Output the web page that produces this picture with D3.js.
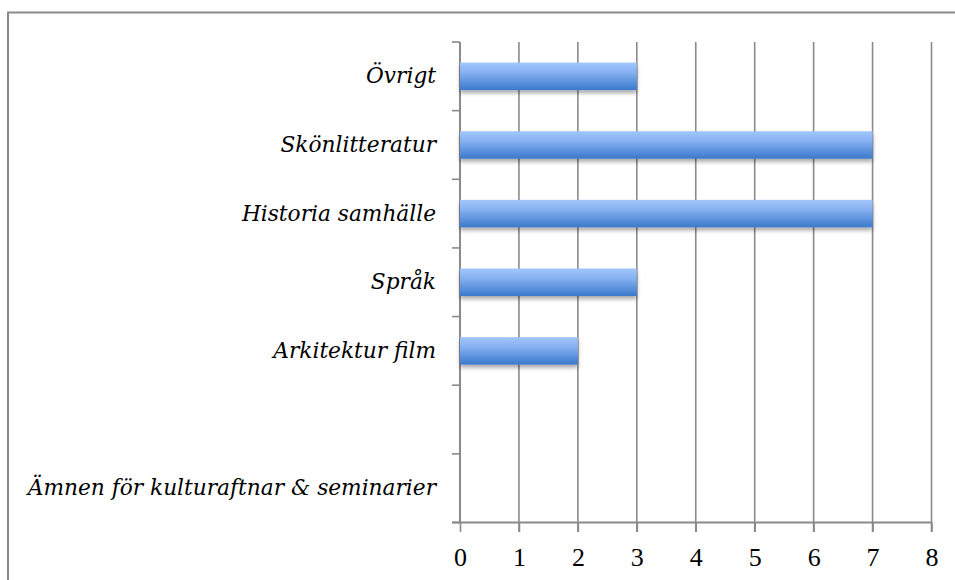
<!DOCTYPE html>
<html>
<head>
<meta charset="utf-8">
<script src="https://cdn.jsdelivr.net/npm/d3@7"></script>
<style>
  html, body { margin: 0; padding: 0; background: #fff; }
  svg { display: block; }
</style>
</head>
<body>
<svg id="chart" width="955" height="580"></svg>
<script>
const categories = ["Övrigt", "Skönlitteratur", "Historia samhälle", "Språk", "Arkitektur film", "", "Ämnen för kulturaftnar & seminarier"];
const values = [3, 7, 7, 3, 2, null, null];
const xTicks = [0, 1, 2, 3, 4, 5, 6, 7, 8];

const svg = d3.select("#chart");
const W = 955, H = 580;
const mLeft = 460, mRight = 931.5, mTop = 42, mBottom = 522.5;
const gray = "#8a8a8a";

// frame (top and left)
svg.append("path").attr("d", `M8,${H} L8,12.5 L${W},12.5`)
  .attr("fill", "none").attr("stroke", gray).attr("stroke-width", 2);

const keys = categories.map((c, i) => i);
const y = d3.scaleBand().domain(keys).range([mTop, mBottom]).paddingInner(0).paddingOuter(0);
const x = d3.scaleLinear().domain([0, 8]).range([mLeft, mRight]);

const defs = svg.append("defs");
const grad = defs.append("linearGradient").attr("id", "barGrad")
  .attr("x1", 0).attr("y1", 0).attr("x2", 0).attr("y2", 1);
grad.append("stop").attr("offset", "0%").attr("stop-color", "#a2c6fb");
grad.append("stop").attr("offset", "35%").attr("stop-color", "#86b1f2");
grad.append("stop").attr("offset", "100%").attr("stop-color", "#3a79cc");
const filt = defs.append("filter").attr("id", "shadow").attr("x", "-5%").attr("y", "-20%").attr("width", "110%").attr("height", "160%");
filt.append("feGaussianBlur").attr("in", "SourceAlpha").attr("stdDeviation", 2.2).attr("result", "b");
filt.append("feOffset").attr("in", "b").attr("dx", 0).attr("dy", 3).attr("result", "o");
filt.append("feComponentTransfer").attr("in", "o").attr("result", "s")
  .append("feFuncA").attr("type", "linear").attr("slope", 0.35);
const fm = filt.append("feMerge");
fm.append("feMergeNode").attr("in", "s");
fm.append("feMergeNode").attr("in", "SourceGraphic");

// vertical grid lines (extend as ticks below axis)
svg.append("g").selectAll("line").data(xTicks.slice(1)).join("line")
  .attr("x1", d => x(d)).attr("x2", d => x(d))
  .attr("y1", mTop).attr("y2", mBottom + 9.5)
  .attr("stroke", gray).attr("stroke-width", 1.6);

// bottom axis
const xAxis = d3.axisBottom(x).tickValues(xTicks).tickSize(9.5).tickPadding(16).tickSizeOuter(0);
const gx = svg.append("g").attr("transform", `translate(0,${mBottom})`).call(xAxis);
gx.select(".domain").remove();
gx.append("line").attr("x1", mLeft - 8).attr("x2", mRight).attr("y1", 0).attr("y2", 0)
  .attr("stroke", gray).attr("stroke-width", 2);
gx.selectAll(".tick line").attr("stroke", gray).attr("stroke-width", 1.6);
gx.selectAll(".tick text").attr("fill", "#000")
  .style("font-family", "'Liberation Serif', serif").style("font-size", "26px");

// left axis: band boundaries as ticks
const bounds = keys.map(k => y(k)).concat([mBottom]);
const gy = svg.append("g");
gy.append("line").attr("x1", mLeft).attr("x2", mLeft).attr("y1", mTop).attr("y2", mBottom)
  .attr("stroke", gray).attr("stroke-width", 2);
gy.selectAll("line.t").data(bounds).join("line").attr("class", "t")
  .attr("x1", mLeft - 8).attr("x2", mLeft).attr("y1", d => d).attr("y2", d => d)
  .attr("stroke", gray).attr("stroke-width", 1.6);

// bars
const bh = y.bandwidth() * 0.4;
svg.append("g").selectAll("rect").data(keys.filter(k => values[k] != null)).join("rect")
  .attr("x", x(0)).attr("y", k => y(k) + (y.bandwidth() - bh) / 2)
  .attr("width", k => x(values[k]) - x(0)).attr("height", bh)
  .attr("fill", "url(#barGrad)").attr("filter", "url(#shadow)");

// category labels
svg.append("g").selectAll("text").data(keys).join("text")
  .attr("x", mLeft - 24).attr("y", k => y(k) + y.bandwidth() / 2 + 1)
  .attr("text-anchor", "end").attr("dominant-baseline", "middle")
  .style("font-family", "'DejaVu Serif', serif").style("font-style", "italic").style("font-size", "21.7px")
  .text(k => categories[k]);
</script>
</body>
</html>
